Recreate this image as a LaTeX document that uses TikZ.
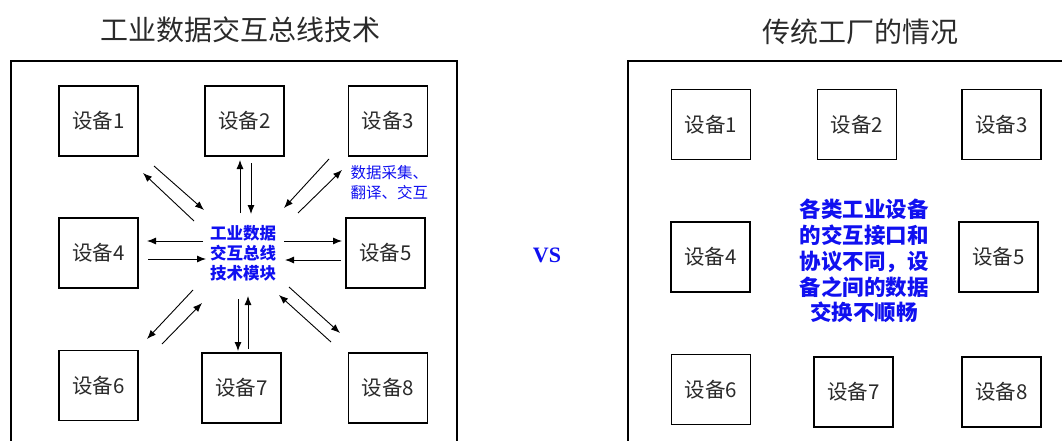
\documentclass[tikz,border=0pt]{standalone}
\usepackage{fontspec}
\setmainfont{Noto Sans CJK SC}
\newfontfamily\vsfont{Liberation Serif}
\usetikzlibrary{arrows.meta}
\definecolor{txtgray}{HTML}{2A2A2A}
\definecolor{hubblue}{HTML}{1010F0}
\tikzset{
  dev/.style={draw, line width=1.9pt, minimum width=79pt, minimum height=70pt, inner sep=0pt,
    font=\fontsize{20.5}{22}\selectfont, text=txtgray},
  frame/.style={line width=1.9pt},
  title/.style={font=\fontsize{28}{30}\selectfont, text=txtgray},
  flow/.style={line width=0.9pt, -{Latex[length=9pt,width=7pt]}},
  hub/.style={align=center, text=hubblue, font=\bfseries\fontsize{16.5}{20}\selectfont},
  note/.style={align=left, text=hubblue, font=\fontsize{15.5}{20}\selectfont, anchor=west},
}
\begin{document}
\begin{tikzpicture}[x=1pt,y=-1pt]
\useasboundingbox (0,0) rectangle (1062,441);
% ---------- left panel ----------
\node[title] (tl) at (240,30) {工业数据交互总线技术};
\draw[frame] (11,460) -- (11,61) -- (457,61) -- (457,460);
\node[dev] (d1) at (98.5,121) {设备1};
\node[dev] (d2) at (244.5,121) {设备2};
\node[dev] (d3) at (388,121) {设备3};
\node[dev] (d4) at (98.5,253) {设备4};
\node[dev] (d5) at (385.5,253) {设备5};
\node[dev] (d6) at (98.5,385.5) {设备6};
\node[dev] (d7) at (241.5,388) {设备7};
\node[dev] (d8) at (388,388) {设备8};
\node[hub] (hub) at (243,253) {工业数据\\交互总线\\技术模块};
\node[note] (nt) at (347,183) {数据采集、\\翻译、交互};
% arrow end points
\coordinate (a1s) at (154,166); \coordinate (a1e) at (204,210);
\coordinate (b1s) at (194,221); \coordinate (b1e) at (143,173);
\coordinate (a2s) at (240,213); \coordinate (a2e) at (240,160);
\coordinate (b2s) at (251,163); \coordinate (b2e) at (251,214);
\coordinate (a3s) at (329,159); \coordinate (a3e) at (284,208);
\coordinate (b3s) at (298,213); \coordinate (b3e) at (342,170);
\coordinate (a4s) at (203,241); \coordinate (a4e) at (147,241);
\coordinate (b4s) at (148,259); \coordinate (b4e) at (206,259);
\coordinate (a5s) at (284,241); \coordinate (a5e) at (342,241);
\coordinate (b5s) at (341,260); \coordinate (b5e) at (285,260);
\coordinate (a6s) at (193,290); \coordinate (a6e) at (147,339);
\coordinate (b6s) at (162,344); \coordinate (b6e) at (202,303);
\coordinate (a7s) at (238,299); \coordinate (a7e) at (238,351);
\coordinate (b7s) at (248,349); \coordinate (b7e) at (248,296);
\coordinate (a8s) at (331,342); \coordinate (a8e) at (279,295);
\coordinate (b8s) at (289,287); \coordinate (b8e) at (340,333);
\foreach \k in {1,...,8}{
  \draw[flow] (a\k s) -- (a\k e);
  \draw[flow] (b\k s) -- (b\k e);
}
% ---------- VS ----------
\node[text=hubblue, font=\vsfont\bfseries\fontsize{22}{24}\selectfont] (vs) at (547,255) {VS};
% ---------- right panel ----------
\node[title] (tr) at (860,32) {传统工厂的情况};
\draw[frame] (628,460) -- (628,61) -- (1080,61);
\node[dev] (r1) at (711,124.5) {设备1};
\node[dev] (r2) at (857,124.5) {设备2};
\node[dev] (r3) at (1001.5,124.5) {设备3};
\node[dev] (r4) at (710.5,257) {设备4};
\node[dev] (r5) at (998.5,257) {设备5};
\node[dev] (r6) at (711,389.5) {设备6};
\node[dev] (r7) at (853.5,392) {设备7};
\node[dev] (r8) at (1001.5,392) {设备8};
\node[align=center, text=hubblue, font=\bfseries\fontsize{21.5}{25.8}\selectfont] (rt) at (864,261)
  {各类工业设备\\的交互接口和\\协议不同，设\\备之间的数据\\交换不顺畅};
\end{tikzpicture}
\end{document}
